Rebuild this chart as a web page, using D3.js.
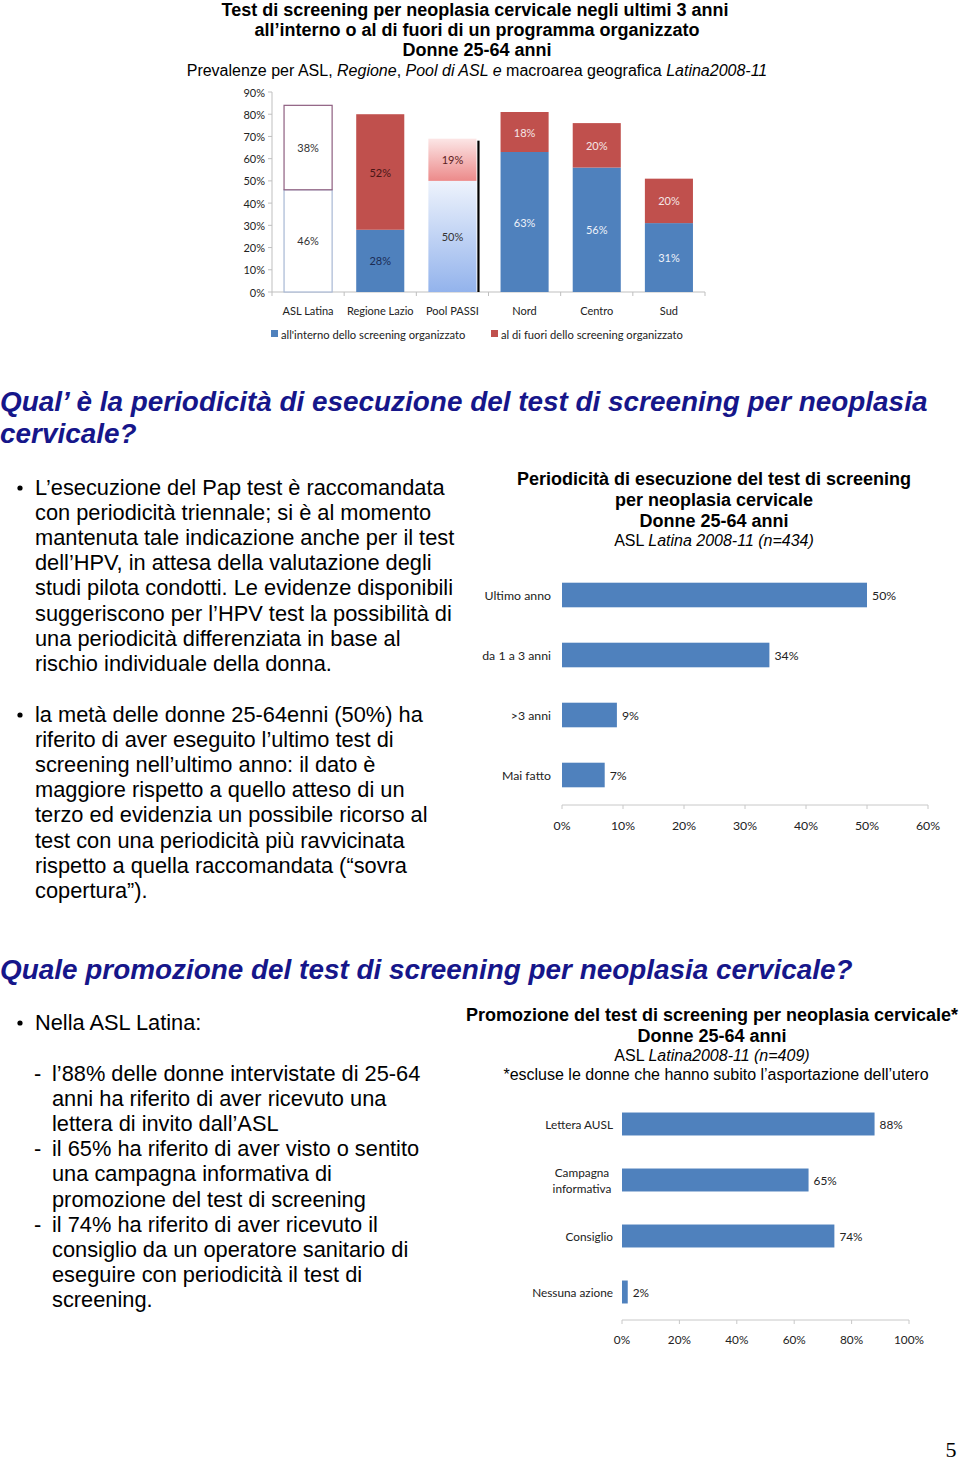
<!DOCTYPE html>
<html><head><meta charset="utf-8">
<script src="https://cdn.jsdelivr.net/npm/d3@7"></script>
<style>
html,body{margin:0;padding:0;background:#fff;}
svg{display:block;}
</style></head>
<body>
<svg id="page" width="960" height="1460"></svg>
<script>
// ---------- DATA ----------
const topCats = ["ASL Latina","Regione Lazio","Pool PASSI","Nord","Centro","Sud"];
const insideVals = [46,28,50,63,56,31];
const outsideVals = [38,52,19,18,20,20];
const topTicks = [0,10,20,30,40,50,60,70,80,90];
const legendLabels = ["all'interno dello screening organizzato","al di fuori dello screening organizzato"];

const periodCats = ["Ultimo anno","da 1 a 3 anni",">3 anni","Mai fatto"];
const periodVals = [50,34,9,7];
const periodTicks = [0,10,20,30,40,50,60];

const promoCats = ["Lettera AUSL","Campagna informativa","Consiglio","Nessuna azione"];
const promoVals = [88,65,74,2];
const promoTicks = [0,20,40,60,80,100];

const svg = d3.select("#page");
svg.append("rect").attr("width",960).attr("height",1460).attr("fill","#fff");
const SANS = "'Liberation Sans', Arial, sans-serif";
const CAL = "Lato, 'Open Sans', sans-serif";
const BLUE = "#4F81BD", RED = "#C0504D";

function mixed(x, y, parts, size, weight, anchor){
  const t = svg.append("text").attr("x",x).attr("y",y).attr("font-family",SANS)
    .attr("font-size",size).attr("font-weight",weight||"normal")
    .attr("text-anchor",anchor||"middle").attr("dominant-baseline","central").attr("fill","#000");
  parts.forEach(p=>{ t.append("tspan").attr("font-style",p[1]?"italic":"normal").text(p[0]); });
  return t;
}

// ---------- TOP TITLE ----------
mixed(475,10,[["Test di screening per neoplasia cervicale negli ultimi 3 anni",0]],18,"bold");
mixed(477,30,[["all’interno o al di fuori di un programma organizzato",0]],18,"bold");
mixed(477,50,[["Donne 25-64 anni",0]],18,"bold");
mixed(477,70,[["Prevalenze per ASL, ",0],["Regione",1],[", ",0],["Pool di ASL e",1],[" macroarea geografica ",0],["Latina2008-11",1]],16,"normal");

// ---------- TOP CHART ----------
const defs = svg.append("defs");
const gB = defs.append("linearGradient").attr("id","gBlue").attr("x1",0).attr("y1",0).attr("x2",0).attr("y2",1);
gB.append("stop").attr("offset","0%").attr("stop-color","#eef3fc");
gB.append("stop").attr("offset","100%").attr("stop-color","#93b3ec");
const gR = defs.append("linearGradient").attr("id","gRed").attr("x1",0).attr("y1",0).attr("x2",0).attr("y2",1);
gR.append("stop").attr("offset","0%").attr("stop-color","#fce6e6");
gR.append("stop").attr("offset","100%").attr("stop-color","#ec8a8a");

const yT = d3.scaleLinear().domain([0,90]).range([292,92]);
const xT = d3.scaleBand().domain(topCats).range([272,705]).paddingInner(0.32).paddingOuter(0.16);

const gT = svg.append("g");
gT.append("line").attr("x1",272).attr("x2",272).attr("y1",yT(90)).attr("y2",yT(0)).attr("stroke","#bfbfbf");
gT.selectAll(".yt").data(topTicks).join("line").attr("x1",268).attr("x2",272)
  .attr("y1",d=>yT(d)).attr("y2",d=>yT(d)).attr("stroke","#bfbfbf");
gT.selectAll(".ytl").data(topTicks).join("text").attr("x",265).attr("y",d=>yT(d))
  .attr("text-anchor","end").attr("dominant-baseline","central").attr("font-family",CAL)
  .attr("font-size",11).attr("fill","#222").text(d=>d+"%");
gT.append("line").attr("x1",272).attr("x2",705).attr("y1",yT(0)).attr("y2",yT(0)).attr("stroke","#bfbfbf");
const bounds = topCats.map(c=>xT(c)-xT.step()*xT.paddingInner()/2).concat([705]);
gT.selectAll(".xt").data(bounds).join("line").attr("x1",d=>d).attr("x2",d=>d)
  .attr("y1",yT(0)).attr("y2",yT(0)+4).attr("stroke","#bfbfbf");
gT.selectAll(".xl").data(topCats).join("text").attr("x",d=>xT(d)+xT.bandwidth()/2).attr("y",310)
  .attr("text-anchor","middle").attr("dominant-baseline","central").attr("font-family",CAL)
  .attr("font-size",11).attr("fill","#222").text(d=>d);

topCats.forEach((c,i)=>{
  const x = xT(c), w = xT.bandwidth();
  const a = insideVals[i], b = outsideVals[i];
  let fillA = BLUE, fillB = RED, strokeA = "none", strokeB = "none", colA = "#eef2fa", colB = "#f5e6e6";
  if(i===0){ fillA="#fff"; fillB="#fff"; strokeA="#a8b8d4"; strokeB="#8e5f80"; colA="#333"; colB="#333"; }
  if(i===1){ colA="#1b2c55"; colB="#4a1515"; }
  if(i===2){ fillA="url(#gBlue)"; fillB="url(#gRed)"; colA="#333"; colB="#5a2020"; }
  gT.append("rect").attr("x",x+0.5).attr("y",yT(a)).attr("width",w-1).attr("height",yT(0)-yT(a))
    .attr("fill",fillA).attr("stroke",strokeA).attr("stroke-width",1.2);
  gT.append("rect").attr("x",x+0.5).attr("y",yT(a+b)).attr("width",w-1).attr("height",yT(a)-yT(a+b))
    .attr("fill",fillB).attr("stroke",strokeB).attr("stroke-width",1.2);
  if(i===2){
    gT.append("line").attr("x1",x+w+1.5).attr("x2",x+w+1.5).attr("y1",yT(a+b)+2).attr("y2",yT(0))
      .attr("stroke","#000").attr("stroke-width",2.2);
  }
  gT.append("text").attr("x",x+w/2).attr("y",yT(a/2)).attr("text-anchor","middle").attr("dominant-baseline","central")
    .attr("font-family",CAL).attr("font-size",11).attr("fill",colA).text(a+"%");
  gT.append("text").attr("x",x+w/2).attr("y",yT(a+b/2)).attr("text-anchor","middle").attr("dominant-baseline","central")
    .attr("font-family",CAL).attr("font-size",11).attr("fill",colB).text(b+"%");
});
[[271,BLUE],[491,RED]].forEach((l,i)=>{
  gT.append("rect").attr("x",l[0]).attr("y",330).attr("width",7).attr("height",7).attr("fill",l[1]);
  gT.append("text").attr("x",l[0]+10).attr("y",334).attr("dominant-baseline","central")
    .attr("font-family",CAL).attr("font-size",11.2).attr("fill","#222").text(legendLabels[i]);
});

// ---------- SECTION HEADINGS ----------
function heading(y, txt){
  svg.append("text").attr("x",0).attr("y",y).attr("dominant-baseline","central")
    .attr("font-family",SANS).attr("font-size",27.9).attr("font-weight","bold").attr("font-style","italic")
    .attr("fill","#16168a").text(txt);
}
heading(401,"Qual’ è la periodicità di esecuzione del test di screening per neoplasia");
heading(433,"cervicale?");
heading(969,"Quale promozione del test di screening per neoplasia cervicale?");

// ---------- BODY TEXT ----------
function body(x,y,txt){
  svg.append("text").attr("x",x).attr("y",y).attr("dominant-baseline","central")
    .attr("font-family",SANS).attr("font-size",21.8).attr("fill","#000").text(txt);
}
function bullet(y){ svg.append("circle").attr("cx",20).attr("cy",y+1).attr("r",2.6).attr("fill","#000"); }
const para1 = ["L’esecuzione del Pap test è raccomandata","con periodicità triennale; si è al momento",
 "mantenuta tale indicazione anche per il test","dell’HPV, in attesa della valutazione degli",
 "studi pilota condotti. Le evidenze disponibili","suggeriscono per l’HPV test la possibilità di",
 "una periodicità differenziata in base al","rischio individuale della donna."];
const para2 = ["la metà delle donne 25-64enni (50%) ha","riferito di aver eseguito l’ultimo test di",
 "screening nell’ultimo anno: il dato è","maggiore rispetto a quello atteso di un",
 "terzo ed evidenzia un possibile ricorso al","test con una periodicità più ravvicinata",
 "rispetto a quella raccomandata (“sovra","copertura”)."];
bullet(487); para1.forEach((t,i)=>body(35,487+i*25.2,t));
bullet(714); para2.forEach((t,i)=>body(35,714+i*25.2,t));
bullet(1022); body(35,1022,"Nella ASL Latina:");
const para3 = [["-","l’88% delle donne intervistate di 25-64"],["","anni  ha riferito di aver ricevuto una"],
 ["","lettera di invito dall’ASL"],["-","il 65% ha riferito di aver visto  o sentito"],
 ["","una campagna informativa di"],["","promozione del test di screening"],
 ["-","il 74% ha riferito di aver ricevuto il"],["","consiglio da un operatore sanitario di"],
 ["","eseguire con periodicità il test di"],["","screening."]];
para3.forEach((p,i)=>{ const y=1073+i*25.2; if(p[0]) body(34,y,p[0]); body(52,y,p[1]); });

// ---------- HORIZONTAL BAR CHART helper ----------
function hbar(cats, vals, ticks, xr, yr, maxV, labelX, tickY, fs){
  const x = d3.scaleLinear().domain([0,maxV]).range(xr);
  const y = d3.scaleBand().domain(cats).range(yr).paddingInner(0.59).paddingOuter(0.295);
  const g = svg.append("g");
  g.selectAll(".b").data(cats).join("rect").attr("x",x(0)).attr("y",d=>y(d))
    .attr("width",(d,i)=>x(vals[i])-x(0)).attr("height",y.bandwidth()).attr("fill",BLUE);
  g.selectAll(".v").data(cats).join("text").attr("x",(d,i)=>x(vals[i])+5).attr("y",d=>y(d)+y.bandwidth()/2)
    .attr("dominant-baseline","central").attr("font-family",CAL).attr("font-size",fs).attr("fill","#222")
    .text((d,i)=>vals[i]+"%");
  cats.forEach(c=>{
    const words = c.split(" ");
    const cy = y(c)+y.bandwidth()/2;
    if(c==="Campagna informativa"){
      const t = g.append("text").attr("font-family",CAL).attr("font-size",fs).attr("fill","#222")
        .attr("text-anchor","middle").attr("x",labelX-31);
      t.append("tspan").attr("x",labelX-31).attr("y",cy-8).attr("dominant-baseline","central").text(words[0]);
      t.append("tspan").attr("x",labelX-31).attr("y",cy+8).attr("dominant-baseline","central").text(words[1]);
    } else {
      g.append("text").attr("x",labelX).attr("y",cy).attr("text-anchor","end").attr("dominant-baseline","central")
        .attr("font-family",CAL).attr("font-size",fs).attr("fill","#222").text(c);
    }
  });
  const ay = yr[1];
  g.append("line").attr("x1",xr[0]).attr("x2",xr[1]).attr("y1",ay).attr("y2",ay).attr("stroke","#c8c8c8");
  g.selectAll(".t").data(ticks).join("line").attr("x1",d=>x(d)).attr("x2",d=>x(d)).attr("y1",ay).attr("y2",ay+4).attr("stroke","#c8c8c8");
  g.selectAll(".tl").data(ticks).join("text").attr("x",d=>x(d)).attr("y",tickY).attr("text-anchor","middle")
    .attr("dominant-baseline","central").attr("font-family",CAL).attr("font-size",fs).attr("fill","#222").text(d=>d+"%");
}

// chart 2
mixed(714,479,[["Periodicità di esecuzione del test di screening",0]],18,"bold");
mixed(714,500,[["per neoplasia cervicale",0]],18,"bold");
mixed(714,521,[["Donne 25-64 anni",0]],18,"bold");
mixed(714,540,[["ASL ",0],["Latina 2008-11 (n=434)",1]],16,"normal");
hbar(periodCats, periodVals, periodTicks, [562,928], [565,805], 60, 551, 825, 12.3);

// chart 3
mixed(712,1015,[["Promozione del test di screening per neoplasia cervicale*",0]],18,"bold");
mixed(712,1036,[["Donne 25-64 anni",0]],18,"bold");
mixed(712,1055,[["ASL ",0],["Latina2008-11 (n=409)",1]],16,"normal");
mixed(716,1074,[["*escluse le donne che hanno subito l’asportazione dell’utero",0]],16,"normal");
hbar(promoCats, promoVals, promoTicks, [622,909], [1096,1320], 100, 613, 1339, 11.8);

// page number
svg.append("text").attr("x",951).attr("y",1449).attr("text-anchor","middle").attr("dominant-baseline","central")
  .attr("font-family","'Liberation Serif', 'Times New Roman', serif").attr("font-size",22).attr("fill","#000").text("5");
</script>
</body></html>
